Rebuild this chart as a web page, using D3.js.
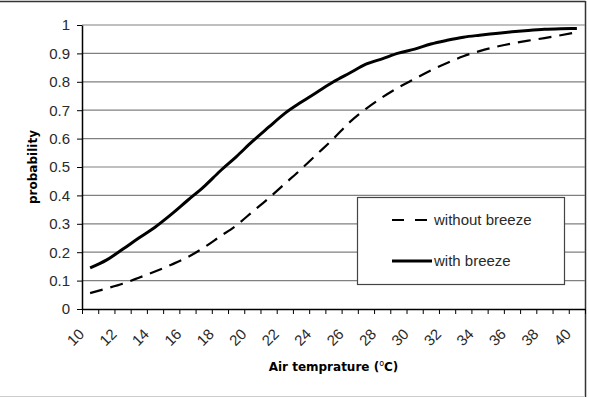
<!DOCTYPE html>
<meta charset="utf-8">
<html>
  <head>
    <title>Probability vs air temperature</title>
    <style>
      body { margin: 0; background: #fff; }
      text.tick-label { font-family: "Liberation Sans", Arial, sans-serif; font-size: 15px; fill: #2a2a2a; }
      text.axis-title { font-family: "DejaVu Sans", Verdana, sans-serif; font-size: 12px; font-weight: bold; fill: #000; }
      text.legend-label { font-family: "Liberation Sans", Arial, sans-serif; font-size: 15px; fill: #2a2a2a; }
      .grid line { stroke: #808080; stroke-width: 1.2px; }
    </style>
    <script src="https://cdn.jsdelivr.net/npm/d3@7"></script>
  </head>
  <body>
    <div id="chart"></div>
    <script type="text/javascript">
    // categories (air temperature, deg C)
    var temps = [10, 11, 12, 13, 14, 15, 16, 17, 18, 19, 20, 21, 22, 23, 24, 25,
                 26, 27, 28, 29, 30, 31, 32, 33, 34, 35, 36, 37, 38, 39, 40];
    var tempLabels = [10, 12, 14, 16, 18, 20, 22, 24, 26, 28, 30, 32, 34, 36, 38, 40];

    var withoutBreeze = [0.056, 0.072, 0.089, 0.110, 0.132, 0.156, 0.182, 0.216, 0.255, 0.294,
                         0.342, 0.390, 0.441, 0.492, 0.546, 0.600, 0.658, 0.705, 0.745, 0.780,
                         0.810, 0.840, 0.866, 0.890, 0.908, 0.923, 0.935, 0.945, 0.954, 0.964, 0.975];
    var withBreeze = [0.145, 0.172, 0.210, 0.250, 0.288, 0.333, 0.382, 0.430, 0.485, 0.536,
                      0.590, 0.640, 0.689, 0.728, 0.764, 0.800, 0.831, 0.862, 0.881, 0.901,
                      0.915, 0.933, 0.946, 0.957, 0.964, 0.970, 0.976, 0.981, 0.985, 0.987, 0.988];
    var yTicks = [0, 0.1, 0.2, 0.3, 0.4, 0.5, 0.6, 0.7, 0.8, 0.9, 1];

    var width = 589, height = 398;
    var plotLeft = 82, plotRight = 585, plotTop = 25, plotBottom = 309;

    var svg = d3.select("#chart").append("svg")
      .attr("width", width)
      .attr("height", height);

    // categories sit between the tick marks, like excel
    var x = d3.scaleLinear()
      .domain([temps[0] - 0.5, temps[temps.length - 1] + 0.5])
      .range([plotLeft, plotRight]);
    var y = d3.scaleLinear()
      .domain([0, 1])
      .range([plotBottom, plotTop]);

    // outer frame
    svg.append("line").attr("x1", 0).attr("x2", plotRight + 0.5).attr("y1", 1.5).attr("y2", 1.5)
      .attr("stroke", "#333").attr("stroke-width", 1.5);
    svg.append("line").attr("x1", plotRight + 0.5).attr("x2", plotRight + 0.5).attr("y1", 1).attr("y2", 397)
      .attr("stroke", "#333").attr("stroke-width", 1.5);
    svg.append("line").attr("x1", 0).attr("x2", plotRight).attr("y1", 396.5).attr("y2", 396.5)
      .attr("stroke", "#ccc").attr("stroke-width", 1);

    // gridlines
    svg.append("g").attr("class", "grid")
      .selectAll("line")
      .data(yTicks.slice(1))
      .enter()
      .append("line")
      .attr("x1", plotLeft).attr("x2", plotRight)
      .attr("y1", function(d) { return y(d); })
      .attr("y2", function(d) { return y(d); });

    // y axis
    var yAxis = svg.append("g")
      .attr("transform", "translate(" + plotLeft + ",0)")
      .call(d3.axisLeft(y).tickValues(yTicks).tickSize(5).tickSizeOuter(0)
        .tickFormat(function(d) { return +d.toFixed(1); }));
    yAxis.attr("font-size", null).attr("font-family", null);
    yAxis.select(".domain").attr("stroke", "#000").attr("stroke-width", 1.5);
    yAxis.selectAll(".tick line").attr("stroke", "#000");
    yAxis.selectAll(".tick text").attr("class", "tick-label").attr("x", -12);

    // x axis, ticks on category boundaries
    var bounds = temps.map(function(t) { return t - 0.5; }).concat([temps[temps.length - 1] + 0.5]);
    var xAxis = svg.append("g")
      .attr("transform", "translate(0," + plotBottom + ")")
      .call(d3.axisBottom(x).tickValues(bounds).tickSize(5).tickSizeOuter(0).tickFormat(""));
    xAxis.select(".domain").attr("stroke", "#000").attr("stroke-width", 1.5);
    xAxis.selectAll(".tick line").attr("stroke", "#000");

    svg.selectAll(".xlabel")
      .data(tempLabels)
      .enter()
      .append("text")
      .attr("class", "tick-label")
      .attr("text-anchor", "end")
      .attr("transform", function(d) {
        return "translate(" + (x(d) - 5) + "," + (plotBottom + 26) + ") rotate(-45)";
      })
      .text(function(d) { return d; });

    // axis titles
    svg.append("text")
      .attr("class", "axis-title")
      .attr("text-anchor", "middle")
      .attr("transform", "translate(37," + ((plotTop + plotBottom) / 2) + ") rotate(-90)")
      .text("probability");

    var xt = svg.append("text")
      .attr("class", "axis-title")
      .attr("text-anchor", "middle")
      .attr("x", (plotLeft + plotRight) / 2)
      .attr("y", 371)
      .text("Air temprature (");
    xt.append("tspan").attr("dy", -5).attr("font-size", "8px").attr("font-weight", "normal").text("o");
    xt.append("tspan").attr("dy", 5).text("C)");

    // series
    var line = d3.line()
      .x(function(d, i) { return x(temps[i]); })
      .y(function(d) { return y(d); })
      .curve(d3.curveMonotoneX);

    svg.append("path")
      .datum(withoutBreeze)
      .attr("d", line)
      .attr("fill", "none")
      .attr("stroke", "#000")
      .attr("stroke-width", 2.2)
      .attr("stroke-dasharray", "13,8");

    svg.append("path")
      .datum(withBreeze)
      .attr("d", line)
      .attr("fill", "none")
      .attr("stroke", "#000")
      .attr("stroke-width", 3);

    // legend
    var legend = svg.append("g").attr("transform", "translate(357,197)");
    legend.append("rect")
      .attr("x", 0.5).attr("y", 0.5)
      .attr("width", 207).attr("height", 87)
      .attr("fill", "#fff")
      .attr("stroke", "#444")
      .attr("stroke-width", 1.2);

    var series = [
      { name: "without breeze", dash: "12,11", w: 2.2, y: 23 },
      { name: "with breeze", dash: null, w: 3, y: 64 }
    ];
    var items = legend.selectAll(".item")
      .data(series)
      .enter()
      .append("g")
      .attr("transform", function(d) { return "translate(0," + d.y + ")"; });
    items.append("line")
      .attr("x1", 35).attr("x2", 75)
      .attr("stroke", "#000")
      .attr("stroke-width", function(d) { return d.w; })
      .attr("stroke-dasharray", function(d) { return d.dash; });
    items.append("text")
      .attr("class", "legend-label")
      .attr("x", 77)
      .attr("y", 5)
      .text(function(d) { return d.name; });
    </script>
  </body>
</html>
